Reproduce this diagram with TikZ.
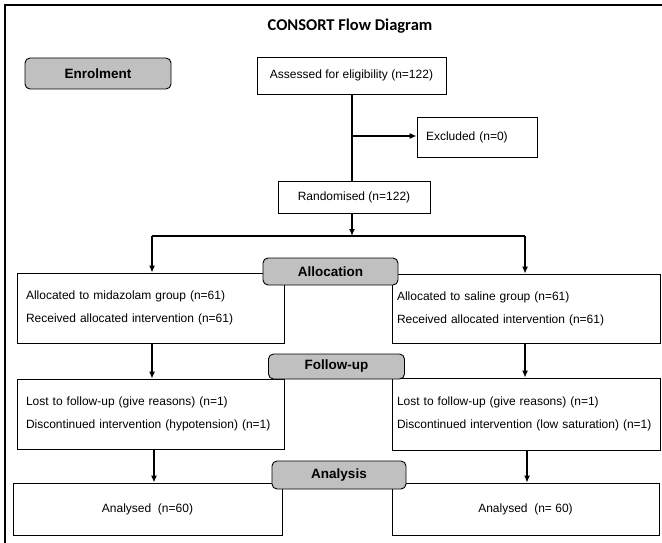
\documentclass[tikz,border=0pt]{standalone}
\usepackage{fontspec}
\setmainfont{Liberation Sans}
\newfontfamily\titlefont{Carlito}
\usetikzlibrary{arrows.meta}
\definecolor{stagegrey}{HTML}{C0C0C0}

\begin{document}
\begin{tikzpicture}[
                        x = 1pt,
                        y = -1pt,
                        > = {Latex[length=7pt,width=6pt]},
          stagebox/.style = {rectangle,
                            rounded corners=5pt,
                            draw=black,
                            line width=0.9pt,
                            fill=stagegrey,
                            font=\bfseries\fontsize{13.5}{16}\selectfont,
                            inner sep=0pt},
           flowbox/.style = {rectangle, draw=black, line width=0.9pt,
                            font=\fontsize{12}{14}\selectfont, inner sep=0pt},
           listbox/.style = {flowbox, align=left, inner xsep=9pt,
                            font=\fontsize{12}{23}\selectfont},
              link/.style = {line width=1.2pt},
            ]
    \useasboundingbox (0,0) rectangle (662,543);
    \draw[line width=1.4pt] (5,543) -- (5,5) -- (662,5);

    \node[font=\titlefont\bfseries\fontsize{16.5}{20}\selectfont] (title) at (350,26) {CONSORT Flow Diagram};

    \node[stagebox, minimum width=146pt, minimum height=31pt] (enrol) at (98,73.5) {Enrolment};
    \node[flowbox, minimum width=189pt, minimum height=37pt] (assess) at (351.5,75.5) {Assessed for eligibility (n=122)};
    \node[flowbox, align=left, text width=102pt, inner xsep=9pt, minimum height=40pt] (excl) at (477,137) {Excluded (n=0)};
    \node[flowbox, minimum width=152pt, minimum height=32pt] (random) at (354,197) {Randomised (n=122)};

    \node[listbox, text width=249pt, minimum height=70pt] (allocL) at (150.5,308)
        {Allocated to midazolam group (n=61)\\Received allocated intervention (n=61)};
    \node[listbox, text width=258pt, inner xsep=5pt, minimum height=69pt] (allocR) at (526,308.5)
        {Allocated to saline group (n=61)\\Received allocated intervention (n=61)};
    \node[listbox, text width=249pt, minimum height=70pt] (fuL) at (150.5,414)
        {Lost to follow-up (give reasons) (n=1)\\Discontinued intervention (hypotension) (n=1)};
    \node[listbox, text width=258pt, inner xsep=5pt, minimum height=72pt] (fuR) at (526,414)
        {Lost to follow-up (give reasons) (n=1)\\Discontinued intervention (low saturation) (n=1)};
    \node[flowbox, minimum width=269pt, minimum height=52pt] (anL) at (147.5,509) {Analysed\ \ (n=60)};
    \node[flowbox, minimum width=267pt, minimum height=52pt] (anR) at (525.5,509) {Analysed\ \ (n= 60)};

    \node[stagebox, minimum width=135pt, minimum height=27pt] (alloc) at (330.5,271.5) {Allocation};
    \node[stagebox, minimum width=136pt, minimum height=25pt] (follow) at (336.5,366.5) {Follow-up};
    \node[stagebox, minimum width=134pt, minimum height=28pt] (analysis) at (339,475) {Analysis};

    \coordinate (split) at (352,136);
    \coordinate (branchL) at (152,236);
    \coordinate (branchR) at (525,236);

    \draw[link] (assess.south -| split) -- (random.north -| split);
    \draw[link,->] (split) -- (split -| excl.west);
    \draw[link,->] (random.south -| split) -- (split |- branchL);
    \draw[link] (branchL) -- (branchR);
    \draw[link,->] (branchL) -- (branchL |- allocL.north);
    \draw[link,->] (branchR) -- (branchR |- allocR.north);
    \draw[link,->] (allocL.south -| branchL) -- (fuL.north -| branchL);
    \draw[link,->] (allocR.south -| branchR) -- (fuR.north -| branchR);
    \draw[link,->] ([xshift=2pt]fuL.south -| branchL) -- ([xshift=2pt]anL.north -| branchL);
    \draw[link,->] ([xshift=2pt]fuR.south -| branchR) -- ([xshift=2pt]anR.north -| branchR);
\end{tikzpicture}
\end{document}
